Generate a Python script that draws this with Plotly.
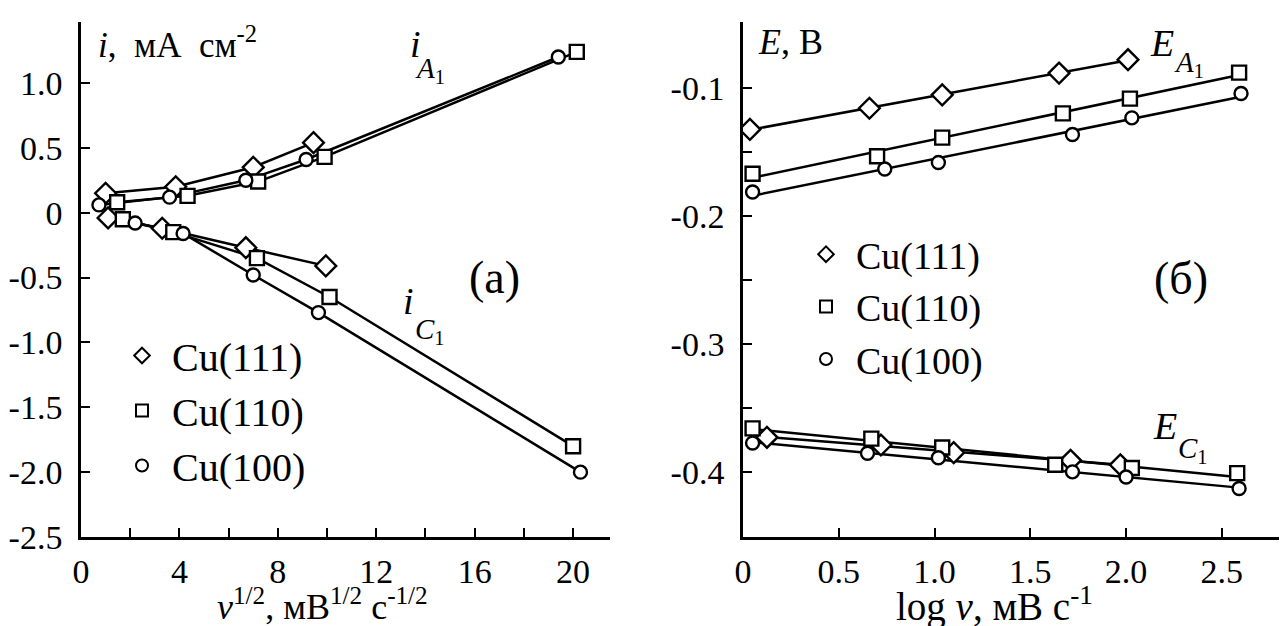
import numpy as np
import plotly.graph_objects as go

FONT = "Liberation Serif"

series_names = ["Cu(111)", "Cu(110)", "Cu(100)"]
symbols = ["diamond", "square", "circle"]
msizes = [16, 14, 13]

# Panel (a): i (mA cm^-2) vs v^1/2
a_A1_x = {
    "Cu(111)": [1.0, 3.85, 7.0, 9.45],
    "Cu(110)": [1.47, 4.33, 7.2, 9.9, 20.15],
    "Cu(100)": [0.73, 3.6, 6.7, 9.15, 19.4],
}
a_A1_y = {
    "Cu(111)": [0.15, 0.20, 0.35, 0.54],
    "Cu(110)": [0.08, 0.13, 0.24, 0.43, 1.24],
    "Cu(100)": [0.06, 0.12, 0.25, 0.41, 1.20],
}
a_C1_x = {
    "Cu(111)": [1.1, 3.3, 6.7, 9.95],
    "Cu(110)": [1.7, 3.75, 7.15, 10.1, 20.0],
    "Cu(100)": [2.2, 4.15, 7.0, 9.65, 20.3],
}
a_C1_y = {
    "Cu(111)": [-0.04, -0.12, -0.27, -0.41],
    "Cu(110)": [-0.05, -0.15, -0.35, -0.65, -1.80],
    "Cu(100)": [-0.08, -0.16, -0.48, -0.77, -2.00],
}

# Panel (b): E (V) vs log v
b_A1_x = {
    "Cu(111)": [0.036, 0.66, 1.04, 1.65, 2.01],
    "Cu(110)": [0.05, 0.70, 1.04, 1.67, 2.02, 2.59],
    "Cu(100)": [0.05, 0.74, 1.02, 1.72, 2.03, 2.60],
}
b_A1_y = {
    "Cu(111)": [-0.132, -0.1155, -0.105, -0.088, -0.0775],
    "Cu(110)": [-0.1667, -0.153, -0.1385, -0.1195, -0.108, -0.0876],
    "Cu(100)": [-0.181, -0.163, -0.158, -0.136, -0.123, -0.104],
}
b_C1_x = {
    "Cu(111)": [0.125, 0.72, 1.10, 1.71, 1.97],
    "Cu(110)": [0.05, 0.67, 1.04, 1.63, 2.03, 2.58],
    "Cu(100)": [0.05, 0.65, 1.02, 1.72, 2.00, 2.59],
}
b_C1_y = {
    "Cu(111)": [-0.373, -0.379, -0.385, -0.391, -0.3945],
    "Cu(110)": [-0.366, -0.374, -0.381, -0.3945, -0.397, -0.401],
    "Cu(100)": [-0.3775, -0.3855, -0.389, -0.400, -0.404, -0.413],
}

a_xticks = [0, 2, 4, 6, 8, 10, 12, 14, 16, 18, 20]
a_xticktext = ["0", "", "4", "", "8", "", "12", "", "16", "", "20"]
a_yticks = [-2.5, -2.0, -1.5, -1.0, -0.5, 0, 0.5, 1.0]
a_yticktext = ["-2.5", "-2.0", "-1.5", "-1.0", "-0.5", "0", "0.5", "1.0"]
b_xticks = [0, 0.5, 1.0, 1.5, 2.0, 2.5]
b_xticktext = ["0", "0.5", "1.0", "1.5", "2.0", "2.5"]
b_yticks = [-0.4, -0.35, -0.3, -0.25, -0.2, -0.15, -0.1]
b_yticktext = ["-0.4", "", "-0.3", "", "-0.2", "", "-0.1"]

fig = go.Figure()
LINE = dict(color="black", width=2.5)

# connecting / fitted lines first
for s in series_names:
    for xs, ys in [(a_A1_x[s], a_A1_y[s]), (a_C1_x[s], a_C1_y[s])]:
        fig.add_trace(go.Scatter(x=xs, y=ys, mode="lines", line=LINE,
                                 showlegend=False, hoverinfo="skip",
                                 xaxis="x", yaxis="y"))
    for xs, ys in [(b_A1_x[s], b_A1_y[s]), (b_C1_x[s], b_C1_y[s])]:
        xa = np.array(xs)
        k, b = np.polyfit(xa, np.array(ys), 1)
        xe = np.array([xa.min(), xa.max()])
        fig.add_trace(go.Scatter(x=xe, y=k * xe + b, mode="lines", line=LINE,
                                 showlegend=False, hoverinfo="skip",
                                 xaxis="x2", yaxis="y2"))

# open markers on top
for s, sym, ms in zip(series_names, symbols, msizes):
    mk = dict(symbol=sym, size=ms, color="white", line=dict(color="black", width=2.4))
    fig.add_trace(go.Scatter(x=a_A1_x[s], y=a_A1_y[s], mode="markers", marker=mk,
                             name=s, legend="legend", legendgroup="a" + s,
                             showlegend=True, xaxis="x", yaxis="y"))
    fig.add_trace(go.Scatter(x=a_C1_x[s], y=a_C1_y[s], mode="markers", marker=mk,
                             name=s, legendgroup="a" + s, showlegend=False,
                             xaxis="x", yaxis="y"))
    fig.add_trace(go.Scatter(x=b_A1_x[s], y=b_A1_y[s], mode="markers", marker=mk,
                             name=s, legend="legend2", legendgroup="b" + s,
                             showlegend=True, xaxis="x2", yaxis="y2"))
    fig.add_trace(go.Scatter(x=b_C1_x[s], y=b_C1_y[s], mode="markers", marker=mk,
                             name=s, legendgroup="b" + s, showlegend=False,
                             xaxis="x2", yaxis="y2"))

# the page body has an 8px margin: the figure is drawn from (8, 8)
OFF = 8
W, H = 1287 - OFF, 626 - OFF
def px(x):
    return (x - OFF) / W
def py(y):
    return 1 - (y - OFF) / H

axis_common = dict(showline=True, linewidth=2.5, linecolor="black", ticks="inside",
                   ticklen=9, tickwidth=2, tickcolor="black", showgrid=False,
                   zeroline=False, mirror=False, automargin=False,
                   tickfont=dict(family=FONT, size=34, color="black"))

legend_common = dict(bgcolor="rgba(0,0,0,0)", borderwidth=0, itemsizing="constant",
                     itemwidth=50, traceorder="grouped", tracegroupgap=0,
                     xanchor="left", yanchor="top")

fig.update_layout(
    width=W, height=H,
    margin=dict(l=0, r=0, t=0, b=0, autoexpand=False),
    paper_bgcolor="white", plot_bgcolor="white",
    font=dict(family=FONT, color="black"),
    xaxis=dict(domain=[px(81), px(610)], range=[0, 21.5], anchor="y",
               tickvals=a_xticks, ticktext=a_xticktext, ticklabelstandoff=2,
               **axis_common),
    yaxis=dict(domain=[py(537), py(22)], range=[-2.5, 1.47], anchor="x",
               tickvals=a_yticks, ticktext=a_yticktext, ticklabelstandoff=9,
               **axis_common),
    xaxis2=dict(domain=[px(743), 1.0], range=[0, 2.84], anchor="y2",
                tickvals=b_xticks, ticktext=b_xticktext, ticklabelstandoff=2,
                **axis_common),
    yaxis2=dict(domain=[py(537), py(22)], range=[-0.451, -0.048], anchor="x2",
                tickvals=b_yticks, ticktext=b_yticktext, ticklabelstandoff=9,
                **axis_common),
    legend=dict(x=px(112), y=py(323), font=dict(family=FONT, size=40, color="black"),
                **legend_common),
    legend2=dict(x=px(796), y=py(223), font=dict(family=FONT, size=38, color="black"),
                 **legend_common),
    showlegend=True,
)

def ann(text, x, y, size, xanchor="center", yanchor="middle"):
    fig.add_annotation(text=text, x=px(x), y=py(y), xref="paper", yref="paper",
                       showarrow=False, xanchor=xanchor, yanchor=yanchor,
                       font=dict(family=FONT, size=size, color="black"))

ann("<i>i</i>,  мА  см<sup>-2</sup>", 96, 42, 35, xanchor="left")
ann("<i>i</i>", 416, 44, 38)
ann("<i>A</i><sub>1</sub>", 430, 70, 29)
ann("<i>i</i>", 409, 301, 38)
ann("<i>C</i><sub>1</sub>", 430, 331, 29)
ann("(a)", 494, 277, 46)
ann("<i>ν</i><sup>1/2</sup>, мВ<sup>1/2</sup> с<sup>-1/2</sup>", 322, 604, 36)

ann("<i>E</i>, В", 756, 42, 36, xanchor="left")
ann("<i>E</i>", 1162, 43, 38)
ann("<i>A</i><sub>1</sub>", 1189, 64, 29)
ann("<i>E</i>", 1165, 426, 38)
ann("<i>C</i><sub>1</sub>", 1192, 450, 29)
ann("(б)", 1181, 278, 46)
ann("log <i>ν</i>, мВ с<sup>-1</sup>", 994, 604, 39)

fig.write_html("out.html")
